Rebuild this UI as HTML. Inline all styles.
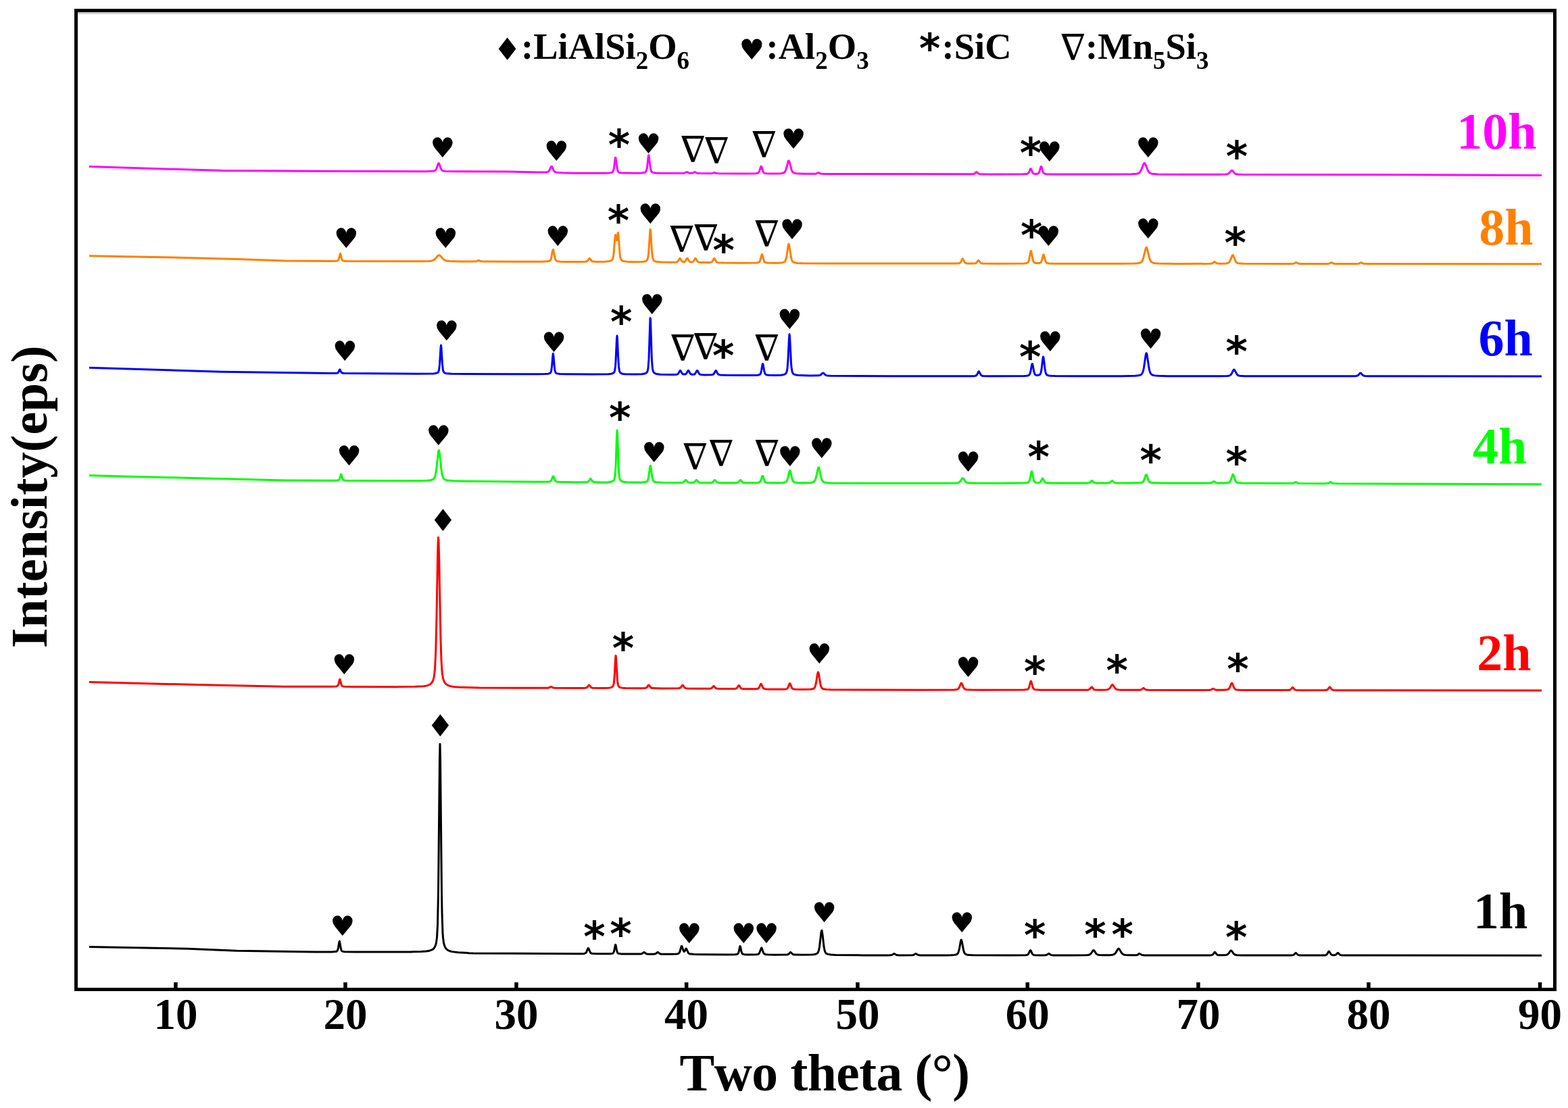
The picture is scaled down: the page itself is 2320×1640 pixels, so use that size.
<!DOCTYPE html><html><head><meta charset="utf-8"><title>XRD patterns</title><style>html,body{margin:0;padding:0;background:#fff;}svg{display:block;font-kerning:none;}text{font-kerning:none;}</style></head><body>
<svg width="2320" height="1640" viewBox="0 0 2320 1640">
<rect x="0" y="0" width="2320" height="1640" fill="#fff"/>
<path d="M132.0 246.50L242.0 250.00 330.0 252.50 550.0 253.60 630.5 253.65 640.5 253.30 642.5 252.96 644.0 252.25 645.5 250.33 648.0 243.27 648.5 242.07 649.0 241.52 649.5 241.76 650.0 242.74 652.0 248.76 653.5 251.59 654.5 252.48 655.5 252.93 659.5 253.48 676.5 253.80 750.0 254.00 794.5 254.96 807.0 254.98 810.0 254.60 811.5 253.82 813.0 251.82 815.0 247.31 815.5 246.50 816.0 246.20 816.5 246.52 817.0 247.35 819.0 251.96 820.0 253.51 821.5 254.68 824.0 255.28 831.5 255.76 850.0 256.27 895.0 256.22 900.5 256.03 904.0 255.62 906.0 254.87 907.0 253.71 908.0 250.67 908.5 247.94 910.5 233.26 911.0 233.57 913.5 251.12 914.5 253.90 915.5 254.95 917.5 255.66 922.5 256.12 944.5 256.22 949.5 256.03 953.0 255.60 955.0 254.78 956.0 253.56 957.0 250.35 957.5 247.40 959.0 233.56 959.5 230.06 960.0 229.70 962.0 246.69 962.5 249.85 963.5 253.37 964.5 254.71 966.5 255.59 970.0 256.07 975.5 256.30 1010.5 256.41 1013.0 256.01 1016.0 254.47 1019.5 256.16 1023.0 256.37 1025.0 256.02 1028.0 254.47 1031.5 256.25 1035.5 256.59 1052.0 256.64 1054.0 256.38 1057.0 255.50 1060.0 256.50 1064.0 256.77 1105.5 256.95 1118.0 256.75 1121.0 256.31 1122.5 255.32 1123.5 253.59 1125.5 247.19 1126.0 246.24 1126.5 246.35 1127.0 247.48 1128.5 252.54 1129.5 254.79 1130.5 255.89 1131.5 256.36 1134.5 256.79 1140.5 256.97 1149.5 256.93 1155.5 256.63 1158.0 256.27 1159.5 255.80 1161.0 254.72 1162.0 253.28 1163.5 249.36 1166.0 239.48 1166.5 238.23 1167.0 237.78 1167.5 238.24 1168.0 239.49 1171.0 250.98 1172.0 253.34 1173.5 255.26 1175.0 256.10 1178.0 256.71 1189.5 257.27 1206.5 257.26 1208.0 256.94 1211.0 255.45 1213.5 256.75 1215.0 257.22 1221.0 257.47 1434.5 257.83 1439.0 257.71 1441.0 257.36 1442.0 256.82 1444.5 254.53 1445.5 254.92 1447.0 256.50 1448.0 257.20 1449.0 257.54 1451.0 257.76 1477.0 257.96 1513.5 257.86 1519.0 257.55 1521.0 256.88 1522.5 254.95 1524.5 250.13 1525.0 249.71 1525.5 250.12 1527.5 254.90 1528.5 256.37 1530.0 257.21 1533.0 257.41 1535.5 257.02 1537.0 255.81 1538.0 253.74 1540.0 247.01 1540.5 246.43 1541.0 247.02 1543.0 253.79 1544.0 255.89 1545.5 257.14 1548.5 257.68 1558.0 257.97 1588.5 258.09 1652.5 258.07 1673.5 257.84 1682.0 257.21 1684.0 256.68 1685.5 255.84 1687.0 254.27 1688.5 251.65 1692.0 242.79 1693.0 241.48 1693.5 241.44 1694.0 241.83 1695.0 243.67 1698.5 252.47 1699.5 254.14 1701.0 255.77 1702.5 256.65 1705.0 257.30 1713.5 257.90 1750.5 258.21 1798.0 258.25 1813.0 258.04 1816.0 257.71 1818.0 256.87 1819.5 255.50 1821.5 252.94 1822.5 252.22 1823.5 252.55 1826.5 256.14 1828.5 257.45 1831.5 258.00 1838.0 258.22 2000.0 258.50 2281.0 259.40" fill="none" stroke="#ff00ff" stroke-width="3.0" stroke-linejoin="round"/>
<path d="M132.0 378.70L254.0 381.00 350.0 383.50 421.0 385.90 492.5 386.49 498.5 386.15 499.5 385.88 500.5 385.15 501.5 382.96 503.0 376.38 503.5 375.40 504.0 376.38 505.5 382.98 506.5 385.16 508.0 386.07 512.0 386.48 606.0 386.85 625.5 386.77 635.0 386.48 639.0 385.94 641.5 384.96 644.0 382.99 648.0 378.45 649.5 377.70 650.5 377.95 651.5 378.74 655.0 382.81 657.5 384.89 660.5 386.07 665.0 386.61 679.0 386.97 702.5 387.04 705.0 386.78 707.5 385.67 708.5 385.48 711.5 386.78 715.5 387.12 802.0 387.30 811.0 386.84 813.0 386.31 814.0 385.59 815.0 383.91 815.5 382.43 817.5 372.02 818.0 369.90 818.5 369.34 819.0 370.60 820.5 378.93 821.5 383.10 822.0 384.38 823.0 385.82 825.0 386.72 829.0 387.19 836.5 387.41 858.0 387.51 866.5 387.33 868.0 387.05 869.0 386.51 870.0 385.46 871.5 383.08 872.0 382.56 872.5 382.51 873.0 382.92 875.0 385.92 876.0 386.73 877.0 387.10 883.0 387.43 895.5 387.26 900.5 386.84 903.5 386.16 905.5 384.96 906.5 383.43 907.5 379.60 908.0 376.03 910.0 351.02 910.5 347.74 911.0 348.61 912.0 354.99 912.5 355.82 913.0 353.86 914.0 345.64 914.5 344.39 915.0 347.84 917.0 375.16 918.0 381.64 918.5 383.26 919.5 384.93 920.5 385.70 922.0 386.38 927.0 387.26 937.0 387.67 948.5 387.59 953.0 387.20 956.0 386.27 957.5 384.97 958.5 382.53 959.5 376.13 960.0 370.37 962.0 339.43 962.5 340.10 963.0 346.48 964.5 371.71 965.0 377.09 966.0 382.95 967.0 385.18 968.0 386.15 969.0 386.68 972.5 387.55 978.5 388.00 994.0 388.23 1001.0 387.91 1002.0 387.57 1003.0 386.81 1005.5 382.69 1006.0 382.38 1006.5 382.67 1009.0 386.75 1010.5 387.64 1012.0 387.70 1013.5 387.03 1014.5 385.82 1016.0 383.04 1016.5 382.42 1017.0 382.36 1020.0 387.03 1021.5 387.83 1024.0 387.92 1025.0 387.63 1026.0 386.88 1028.5 382.68 1029.0 382.38 1029.5 382.70 1032.0 387.02 1033.5 388.04 1035.5 388.39 1039.0 388.57 1050.0 388.55 1052.0 388.29 1053.5 387.50 1054.5 386.20 1056.0 383.25 1056.5 382.59 1057.0 382.53 1060.0 387.47 1061.0 388.17 1063.0 388.63 1071.0 388.94 1095.5 389.16 1119.0 388.99 1121.0 388.77 1122.5 388.34 1123.5 387.55 1124.0 386.83 1125.0 384.34 1127.0 376.87 1127.5 376.47 1128.0 377.37 1129.5 383.30 1130.5 386.27 1131.5 387.81 1132.5 388.47 1135.5 389.04 1142.0 389.29 1151.5 389.22 1157.0 388.80 1159.0 388.37 1160.5 387.69 1161.5 386.72 1162.5 384.78 1164.0 378.52 1166.0 364.47 1166.5 361.93 1167.0 360.98 1167.5 361.93 1168.0 364.48 1170.5 381.21 1171.5 384.86 1172.5 386.81 1174.0 388.10 1176.5 388.89 1181.0 389.41 1188.0 389.71 1227.0 390.03 1414.5 390.05 1418.5 389.80 1420.5 389.10 1422.0 387.16 1423.5 383.77 1424.0 383.02 1424.5 382.94 1427.5 388.54 1429.0 389.55 1431.0 389.88 1439.0 390.04 1443.5 389.65 1445.0 388.73 1447.0 385.87 1447.5 385.37 1448.0 385.32 1451.0 389.11 1452.0 389.65 1454.0 389.99 1477.0 390.25 1514.5 389.96 1517.5 389.69 1519.5 389.27 1520.5 388.76 1521.5 387.62 1522.5 385.03 1524.5 374.24 1525.0 372.04 1525.5 371.46 1526.0 372.76 1528.0 383.80 1529.0 386.98 1529.5 387.87 1530.5 388.81 1533.0 389.49 1537.5 389.48 1539.0 389.11 1540.0 388.39 1541.0 386.69 1541.5 385.29 1543.5 377.47 1544.0 376.79 1544.5 377.48 1546.5 385.35 1547.5 387.80 1548.0 388.49 1549.0 389.25 1552.0 389.88 1561.5 390.23 1592.0 390.37 1657.5 390.33 1678.0 390.02 1683.0 389.66 1686.0 389.15 1688.0 388.32 1689.5 386.90 1690.5 385.21 1691.5 382.66 1695.0 368.42 1696.0 366.27 1696.5 366.35 1697.0 367.23 1700.5 381.37 1701.5 384.31 1703.0 387.05 1704.5 388.40 1706.5 389.19 1710.0 389.75 1715.0 390.08 1740.5 390.43 1790.0 390.36 1793.5 389.91 1794.5 389.35 1796.5 387.58 1797.0 387.42 1797.5 387.57 1800.0 389.64 1801.5 390.12 1807.5 390.27 1814.5 389.91 1817.0 389.32 1818.0 388.75 1819.0 387.74 1820.5 385.04 1823.0 378.52 1823.5 377.78 1824.0 377.60 1824.5 378.02 1825.0 378.93 1828.0 386.50 1829.5 388.51 1831.0 389.42 1832.5 389.81 1839.5 390.31 1911.0 390.48 1914.5 390.13 1917.0 388.75 1918.0 388.52 1921.0 390.10 1923.5 390.45 1962.0 390.52 1966.5 390.20 1970.0 388.50 1973.0 390.05 1975.5 390.46 2005.0 390.55 2010.5 390.21 2014.0 388.50 2016.5 389.84 2018.0 390.33 2024.0 390.57 2281.0 390.70" fill="none" stroke="#ff8000" stroke-width="3.0" stroke-linejoin="round"/>
<path d="M132.0 544.30L326.0 550.20 490.5 552.52 497.0 552.44 499.5 552.04 500.5 551.22 501.0 550.40 502.5 547.09 503.0 546.99 504.5 550.22 505.5 551.69 507.0 552.34 509.5 552.55 616.5 553.27 641.5 553.02 645.0 552.60 647.5 551.66 648.5 550.65 649.5 547.86 650.5 539.60 652.0 514.69 652.5 511.00 653.0 514.70 654.5 539.61 655.5 547.87 656.0 549.66 657.0 551.28 658.5 552.20 660.5 552.73 668.0 553.28 688.5 553.53 795.5 553.75 806.5 553.61 811.5 553.17 814.0 552.24 815.0 550.95 815.5 549.50 816.5 542.98 818.0 525.05 818.5 523.41 819.0 527.02 820.5 544.79 821.0 548.16 822.0 551.35 823.0 552.40 824.0 552.87 828.5 553.58 838.5 553.85 877.0 554.04 900.5 553.70 904.5 553.27 907.0 552.46 908.5 551.24 909.5 549.06 910.5 542.41 911.0 535.51 912.5 501.88 913.0 496.90 913.5 501.89 914.5 525.55 915.5 542.45 916.5 549.11 917.5 551.30 918.5 552.24 920.0 552.98 922.0 553.48 925.0 553.83 938.5 554.09 949.5 553.85 954.0 553.09 955.5 552.45 956.5 551.72 957.5 550.51 958.0 549.49 959.0 545.01 960.0 531.41 962.0 470.66 962.5 472.20 964.0 521.40 964.5 533.49 965.5 545.76 966.5 549.78 967.5 551.39 968.5 552.27 970.0 553.05 971.5 553.49 977.0 554.17 992.5 554.53 998.5 554.54 1001.5 554.25 1002.5 553.90 1003.5 553.09 1006.0 548.72 1006.5 548.39 1007.0 548.71 1009.0 552.37 1010.0 553.49 1011.5 554.09 1013.5 554.08 1014.5 553.74 1015.5 552.90 1017.5 549.28 1018.0 548.54 1018.5 548.35 1019.0 548.80 1021.0 552.56 1022.0 553.64 1023.5 554.24 1026.0 554.32 1027.5 553.98 1028.5 553.24 1031.0 548.84 1031.5 548.40 1032.0 548.61 1032.5 549.38 1034.5 553.12 1035.5 554.03 1036.5 554.43 1042.5 554.88 1052.5 554.81 1054.5 554.53 1056.0 553.62 1059.0 548.53 1059.5 548.60 1060.0 549.29 1061.5 552.40 1062.5 553.78 1063.5 554.46 1065.5 554.90 1074.0 555.21 1100.5 555.42 1114.5 555.42 1121.0 555.17 1124.0 554.46 1125.0 553.52 1125.5 552.57 1126.5 548.87 1128.0 539.92 1128.5 538.39 1129.0 539.08 1130.5 547.83 1131.5 552.01 1132.5 553.88 1133.5 554.59 1135.0 555.01 1137.5 555.29 1147.0 555.49 1155.5 555.22 1160.0 554.46 1162.0 553.51 1163.5 551.72 1164.5 548.37 1165.0 544.96 1166.0 531.98 1167.5 500.11 1168.0 494.65 1168.5 497.10 1170.5 536.92 1171.0 543.16 1172.0 549.81 1173.0 552.34 1174.0 553.46 1175.0 554.10 1178.0 555.05 1183.5 555.62 1198.5 555.97 1211.5 555.87 1214.0 555.13 1217.0 552.34 1218.0 552.02 1219.0 552.71 1221.0 554.76 1222.5 555.60 1224.5 555.98 1229.5 556.19 1320.0 556.80 1437.5 556.69 1442.5 556.42 1444.5 555.74 1446.0 553.82 1447.5 550.48 1448.0 549.74 1448.5 549.66 1451.5 555.19 1452.5 555.98 1454.5 556.47 1461.0 556.73 1479.0 556.80 1515.5 556.49 1519.0 556.23 1521.5 555.71 1522.5 555.18 1523.5 553.96 1524.5 551.25 1525.0 549.09 1526.5 540.62 1527.0 538.74 1527.5 538.53 1528.0 540.10 1530.0 550.71 1531.0 553.56 1531.5 554.33 1532.5 555.11 1534.0 555.48 1535.5 555.49 1537.5 555.07 1538.5 554.47 1539.5 553.04 1540.0 551.70 1541.0 546.84 1543.0 530.01 1543.5 528.02 1544.0 528.92 1546.0 545.54 1547.0 551.10 1547.5 552.72 1548.5 554.47 1549.5 555.24 1551.5 555.90 1555.0 556.35 1561.0 556.61 1592.0 556.83 1659.5 556.72 1679.5 556.30 1684.5 555.78 1687.5 554.97 1689.0 553.99 1690.5 551.72 1691.5 548.76 1692.5 544.08 1695.0 526.76 1695.5 524.12 1696.0 522.73 1696.5 522.89 1697.0 524.56 1700.0 544.64 1701.0 549.13 1702.0 551.94 1703.5 554.08 1705.0 555.01 1708.5 555.88 1713.5 556.34 1728.5 556.70 1768.5 556.83 1804.5 556.76 1816.0 556.44 1819.0 555.95 1821.0 554.76 1822.5 552.72 1825.0 547.80 1825.5 547.24 1826.0 547.11 1827.0 548.11 1830.0 553.82 1831.5 555.33 1833.0 556.01 1834.5 556.31 1841.5 556.68 1898.0 556.86 2003.0 556.73 2006.5 556.54 2008.5 556.04 2010.0 554.98 2012.0 552.59 2013.0 552.00 2014.0 552.59 2016.0 554.98 2017.5 556.04 2019.5 556.54 2024.5 556.76 2281.0 556.90" fill="none" stroke="#0000ff" stroke-width="3.0" stroke-linejoin="round"/>
<path d="M132.0 703.80L421.0 711.00 492.0 711.26 499.0 711.04 500.5 710.79 501.5 710.29 502.5 708.75 504.5 701.84 505.0 702.02 506.5 707.62 507.5 709.88 508.0 710.40 509.0 710.86 511.5 711.19 541.0 711.55 601.0 711.73 621.5 711.65 632.0 711.30 637.0 710.71 640.5 709.57 642.0 708.35 643.5 705.51 644.5 701.77 645.5 695.80 648.5 669.10 649.0 666.88 649.5 666.67 650.0 668.53 650.5 672.05 653.0 695.13 654.5 703.59 655.5 706.63 657.0 708.90 659.0 710.15 662.0 710.98 670.5 711.81 688.5 712.28 770.5 713.10 810.0 713.22 813.5 712.83 815.0 711.92 816.0 710.39 818.0 705.43 818.5 705.00 819.0 705.43 821.0 710.43 822.0 711.98 823.5 712.91 825.5 713.25 846.5 713.71 868.0 713.63 869.5 713.34 870.5 712.80 871.5 711.68 873.0 709.16 873.5 708.60 874.0 708.55 877.0 712.77 879.0 713.57 888.5 713.91 900.5 713.65 905.0 712.92 907.5 711.62 908.5 710.44 909.0 709.43 910.0 704.87 911.0 691.19 912.5 646.20 913.0 637.08 913.5 641.23 915.5 696.78 916.5 706.82 917.5 710.10 918.5 711.45 919.5 712.22 922.5 713.28 927.5 713.83 936.5 714.09 949.5 714.06 954.5 713.60 957.0 712.72 958.0 711.63 959.0 709.08 960.0 703.89 961.5 692.17 962.0 689.57 962.5 689.31 963.0 691.51 965.0 706.36 966.0 710.38 967.0 712.20 968.5 713.22 970.5 713.72 980.0 714.30 1001.5 714.45 1009.5 714.23 1011.5 713.56 1014.0 710.76 1014.5 710.47 1015.0 710.60 1015.5 711.07 1017.5 713.41 1018.5 713.96 1021.0 714.33 1025.0 714.28 1026.5 714.01 1027.5 713.50 1030.0 710.66 1030.5 710.46 1031.0 710.67 1033.5 713.54 1035.0 714.21 1040.0 714.54 1051.0 714.49 1053.0 714.29 1054.5 713.67 1057.0 710.78 1057.5 710.49 1058.0 710.62 1058.5 711.11 1060.5 713.54 1061.5 714.13 1063.0 714.46 1071.5 714.71 1088.0 714.66 1090.5 714.50 1092.0 714.07 1093.0 713.34 1095.0 710.78 1095.5 710.48 1096.0 710.62 1096.5 711.13 1098.5 713.62 1099.5 714.23 1100.5 714.49 1108.5 714.79 1120.0 714.60 1123.0 714.19 1124.5 713.30 1126.0 710.44 1127.5 705.46 1128.0 704.36 1128.5 704.25 1129.0 705.18 1130.5 710.16 1131.5 712.50 1132.5 713.68 1133.5 714.18 1136.5 714.62 1142.5 714.79 1152.5 714.76 1158.5 714.47 1161.0 714.10 1162.5 713.57 1163.5 712.78 1164.5 711.23 1165.5 708.44 1167.5 699.37 1168.5 696.33 1169.0 696.46 1169.5 697.75 1171.5 706.92 1172.5 710.29 1173.5 712.29 1175.0 713.63 1177.5 714.33 1182.5 714.72 1192.0 714.79 1199.0 714.46 1201.5 714.12 1203.5 713.50 1205.0 712.34 1206.0 710.79 1207.5 706.45 1210.0 694.61 1211.0 691.85 1211.5 691.97 1212.0 693.11 1214.5 704.85 1215.5 708.57 1216.5 711.04 1217.5 712.52 1219.0 713.62 1221.5 714.33 1225.5 714.77 1231.5 715.05 1283.5 715.27 1391.5 715.17 1413.0 714.95 1417.0 714.62 1418.5 714.21 1419.5 713.65 1421.0 712.15 1423.5 708.35 1424.5 707.70 1425.5 708.35 1428.0 712.14 1429.5 713.65 1431.0 714.38 1433.5 714.80 1443.0 715.08 1470.5 715.14 1504.5 715.06 1516.0 714.81 1520.5 714.21 1521.5 713.78 1522.5 712.81 1523.5 710.58 1524.0 708.74 1526.0 698.53 1526.5 697.65 1527.0 698.53 1529.5 710.53 1530.5 712.74 1531.5 713.70 1533.0 714.22 1535.0 714.44 1537.0 714.41 1538.5 714.03 1540.0 712.57 1542.0 708.55 1542.5 708.08 1543.0 708.30 1543.5 709.12 1545.5 713.10 1546.5 714.06 1548.5 714.68 1553.0 714.94 1591.0 715.08 1609.5 714.90 1611.5 714.63 1612.5 714.21 1615.0 711.75 1615.5 711.50 1616.0 711.61 1618.0 713.67 1619.0 714.36 1622.0 714.90 1635.0 714.98 1641.0 714.71 1643.0 713.82 1645.0 711.73 1645.5 711.48 1646.5 712.01 1648.5 714.04 1649.5 714.53 1651.0 714.80 1672.0 714.96 1686.5 714.61 1689.5 714.13 1690.5 713.67 1691.5 712.77 1693.0 709.89 1695.0 703.76 1695.5 702.77 1696.0 702.52 1696.5 703.09 1697.0 704.30 1699.0 710.40 1700.0 712.36 1701.5 713.79 1704.5 714.53 1718.5 714.94 1789.0 715.03 1791.5 714.90 1793.0 714.56 1795.5 712.77 1796.5 712.47 1799.0 714.27 1801.0 714.88 1813.0 714.91 1817.5 714.42 1818.5 714.06 1819.5 713.34 1821.0 710.91 1823.5 703.24 1824.0 702.35 1824.5 702.26 1825.5 704.38 1827.5 710.70 1829.0 713.27 1830.0 714.05 1831.5 714.56 1838.0 715.09 1910.5 715.45 1914.0 715.08 1917.0 713.52 1918.0 713.75 1920.5 715.14 1923.0 715.46 1960.5 715.63 1965.0 715.35 1966.0 715.00 1968.5 713.52 1969.5 713.77 1971.0 714.80 1972.5 715.40 1979.5 715.72 2281.0 716.70" fill="none" stroke="#00ff00" stroke-width="3.0" stroke-linejoin="round"/>
<path d="M132.0 1009.50L302.0 1013.80 421.0 1016.20 490.5 1016.31 497.0 1016.06 498.5 1015.79 499.5 1015.27 500.5 1013.67 501.0 1012.09 502.5 1005.67 503.0 1005.47 504.5 1011.71 505.5 1014.53 506.0 1015.20 507.0 1015.79 510.0 1016.22 523.0 1016.45 588.5 1016.67 589.0 1016.47 614.0 1016.35 626.5 1015.73 630.5 1015.11 634.0 1014.09 636.5 1012.74 638.5 1010.90 640.0 1008.66 641.0 1006.33 642.0 1002.54 642.5 999.61 643.5 989.65 644.5 970.05 645.0 954.84 646.0 911.49 647.5 827.08 648.0 805.50 648.5 795.40 649.0 799.84 649.5 817.43 652.0 947.67 653.0 977.43 654.0 993.57 654.5 998.32 655.5 1004.13 657.0 1008.53 658.5 1010.98 660.5 1012.98 663.0 1014.47 666.5 1015.65 671.0 1016.49 681.5 1017.37 708.5 1017.90 709.0 1018.09 802.5 1018.36 811.0 1018.19 812.5 1017.81 814.5 1016.64 815.5 1016.42 818.5 1017.98 821.0 1018.33 861.5 1018.48 866.0 1018.31 868.0 1017.80 869.0 1017.02 871.0 1014.33 871.5 1014.01 872.0 1014.15 872.5 1014.69 874.5 1017.33 875.5 1017.92 877.0 1018.28 893.5 1018.47 899.5 1018.28 903.0 1017.88 905.0 1017.31 906.5 1016.33 907.5 1014.67 908.0 1012.85 909.0 1004.28 910.5 976.09 911.0 970.38 911.5 972.97 913.5 1007.79 914.5 1014.08 915.5 1016.14 916.5 1016.99 917.5 1017.47 920.5 1018.14 925.5 1018.50 947.5 1018.77 954.5 1018.54 956.5 1017.84 957.5 1016.84 959.0 1014.59 959.5 1014.09 960.0 1014.04 963.0 1017.78 964.0 1018.32 965.5 1018.61 979.0 1018.90 1003.5 1018.80 1005.5 1018.55 1006.5 1018.12 1007.5 1017.21 1009.5 1014.25 1010.0 1014.00 1010.5 1014.26 1012.5 1017.25 1013.5 1018.19 1014.5 1018.63 1016.5 1018.92 1036.0 1019.29 1050.5 1019.20 1052.0 1018.93 1053.0 1018.43 1055.5 1015.69 1056.0 1015.49 1056.5 1015.69 1059.0 1018.49 1061.0 1019.24 1068.5 1019.56 1085.0 1019.60 1088.0 1019.41 1089.5 1018.94 1090.5 1018.10 1093.0 1014.52 1093.5 1014.58 1094.0 1015.14 1096.0 1018.26 1097.0 1019.06 1098.0 1019.42 1104.0 1019.82 1117.0 1019.86 1120.5 1019.59 1121.5 1019.30 1122.5 1018.62 1123.5 1017.17 1125.5 1012.48 1126.0 1012.08 1126.5 1012.49 1129.0 1018.07 1130.0 1019.11 1131.0 1019.56 1133.5 1019.93 1138.5 1020.13 1159.0 1020.21 1163.0 1019.90 1164.0 1019.61 1165.0 1018.91 1166.0 1017.38 1168.0 1012.09 1168.5 1011.46 1169.0 1011.75 1169.5 1012.80 1171.5 1017.99 1172.5 1019.24 1174.0 1019.95 1177.5 1020.32 1184.0 1020.48 1199.0 1020.20 1202.0 1019.78 1204.0 1019.04 1205.0 1018.17 1206.0 1016.42 1207.5 1010.75 1209.5 998.04 1210.0 995.74 1210.5 994.89 1211.0 995.75 1211.5 998.06 1214.0 1013.20 1215.0 1016.50 1216.0 1018.27 1217.5 1019.45 1219.5 1020.06 1223.0 1020.50 1229.0 1020.78 1270.5 1021.05 1362.0 1021.13 1412.0 1020.90 1416.0 1020.46 1417.0 1020.09 1418.0 1019.35 1419.5 1017.01 1421.5 1012.02 1422.0 1011.22 1422.5 1011.01 1423.5 1012.47 1425.5 1017.43 1426.5 1019.02 1428.0 1020.19 1430.5 1020.75 1437.0 1021.06 1451.5 1021.18 1515.0 1021.04 1519.5 1020.59 1520.5 1020.24 1521.5 1019.44 1522.5 1017.62 1524.5 1010.07 1525.0 1008.53 1525.5 1008.13 1526.0 1009.04 1528.0 1016.80 1528.5 1018.11 1529.5 1019.67 1530.5 1020.34 1532.0 1020.74 1539.5 1021.17 1573.5 1021.33 1608.5 1021.16 1610.5 1020.95 1612.0 1020.33 1615.0 1016.90 1615.5 1016.95 1616.0 1017.40 1618.0 1020.00 1619.0 1020.66 1620.0 1020.95 1626.5 1021.22 1636.5 1021.00 1639.0 1020.64 1641.0 1019.66 1642.5 1017.99 1645.0 1013.96 1646.0 1013.40 1647.0 1014.22 1649.5 1018.28 1651.0 1019.83 1653.0 1020.71 1657.0 1021.13 1672.0 1021.36 1686.5 1021.23 1689.0 1020.61 1691.0 1018.92 1692.0 1018.49 1694.5 1020.43 1695.5 1020.93 1699.5 1021.34 1788.0 1021.42 1791.5 1021.09 1795.0 1019.26 1798.0 1020.91 1799.5 1021.27 1811.0 1021.31 1816.0 1020.85 1818.0 1019.84 1819.5 1017.66 1821.5 1012.51 1822.0 1011.49 1822.5 1011.01 1823.0 1011.22 1823.5 1012.06 1826.0 1018.25 1827.5 1020.11 1828.5 1020.65 1830.0 1021.02 1836.5 1021.41 1883.0 1021.62 1906.0 1021.47 1908.0 1021.24 1909.0 1020.89 1910.0 1020.14 1912.0 1017.71 1912.5 1017.50 1913.0 1017.71 1915.5 1020.58 1916.5 1021.11 1918.0 1021.40 1930.0 1021.64 1959.5 1021.55 1962.5 1021.34 1964.0 1020.82 1965.0 1019.95 1967.0 1017.14 1967.5 1016.90 1968.0 1017.14 1970.0 1019.96 1971.5 1021.08 1973.5 1021.47 1978.0 1021.63 2281.0 1022.00" fill="none" stroke="#ff0000" stroke-width="3.0" stroke-linejoin="round"/>
<path d="M132.0 1401.40L278.0 1404.30 350.0 1407.20 466.0 1409.05 490.5 1408.97 496.5 1408.59 498.0 1408.19 499.0 1407.43 500.0 1405.10 500.5 1402.79 502.0 1393.43 502.5 1393.14 504.0 1402.23 505.0 1406.33 505.5 1407.30 506.5 1408.15 509.5 1408.76 524.5 1409.06 609.0 1409.10 609.5 1408.83 622.5 1408.52 630.5 1407.98 635.5 1407.16 639.5 1405.69 641.5 1404.18 643.0 1402.24 644.5 1398.90 645.5 1395.02 646.5 1387.56 647.5 1368.95 648.5 1321.28 650.5 1121.30 651.0 1101.20 651.5 1121.33 653.5 1321.44 654.0 1350.37 655.0 1380.75 655.5 1387.83 656.5 1395.35 657.5 1399.29 658.5 1401.79 660.0 1404.18 662.5 1406.38 665.5 1407.75 669.0 1408.62 678.0 1409.69 692.5 1410.50 693.0 1410.79 700.0 1411.00 860.5 1411.65 864.5 1411.39 866.5 1410.67 867.5 1409.50 869.5 1404.66 870.0 1403.68 870.5 1403.42 871.0 1404.01 872.5 1407.89 873.5 1409.84 874.5 1410.85 875.5 1411.27 878.0 1411.62 883.0 1411.81 902.0 1411.81 906.0 1411.38 907.5 1410.49 908.5 1408.26 910.5 1398.29 911.0 1398.55 912.5 1406.63 913.5 1409.90 914.0 1410.64 915.0 1411.30 919.5 1411.92 947.5 1412.09 950.0 1411.54 952.5 1409.63 953.0 1409.49 953.5 1409.63 955.5 1411.27 957.0 1411.93 960.0 1412.19 967.0 1412.19 970.0 1411.77 973.0 1409.55 973.5 1409.46 976.5 1411.67 978.5 1412.17 992.5 1412.35 1001.5 1412.01 1003.5 1411.56 1005.0 1410.34 1006.0 1408.26 1008.0 1401.07 1008.5 1400.20 1009.0 1400.52 1011.0 1407.00 1012.0 1408.52 1012.5 1408.49 1013.0 1407.98 1014.5 1404.84 1015.0 1404.10 1015.5 1404.10 1018.5 1410.56 1019.5 1411.49 1021.5 1412.11 1027.0 1412.49 1040.0 1412.69 1077.0 1412.88 1088.0 1412.70 1091.0 1412.21 1092.0 1411.47 1092.5 1410.65 1093.0 1409.27 1094.5 1402.00 1095.0 1400.53 1095.5 1401.20 1097.0 1408.54 1098.0 1411.22 1099.0 1412.15 1101.0 1412.64 1105.5 1412.90 1114.0 1412.95 1119.0 1412.79 1121.5 1412.42 1122.5 1411.95 1123.5 1410.83 1126.5 1402.97 1127.0 1403.08 1127.5 1404.14 1129.0 1408.91 1130.0 1411.02 1131.0 1412.06 1133.0 1412.73 1137.0 1413.04 1145.5 1413.21 1164.5 1413.05 1166.5 1412.50 1167.5 1411.70 1169.0 1409.91 1169.5 1409.51 1170.0 1409.47 1173.0 1412.46 1175.0 1413.08 1186.5 1413.31 1200.5 1413.05 1204.5 1412.70 1207.5 1412.04 1209.5 1410.87 1210.5 1409.45 1211.5 1406.62 1212.5 1401.48 1215.0 1380.04 1215.5 1377.54 1216.0 1377.29 1217.0 1383.21 1219.0 1400.84 1220.0 1406.27 1221.0 1409.29 1222.5 1411.28 1225.0 1412.39 1229.0 1413.04 1235.5 1413.41 1276.0 1413.89 1315.5 1413.92 1319.5 1413.54 1323.0 1411.50 1326.5 1413.54 1330.5 1413.91 1350.0 1413.81 1352.0 1413.35 1354.5 1411.62 1355.0 1411.50 1358.5 1413.55 1361.5 1413.90 1398.5 1413.89 1407.0 1413.72 1412.0 1413.38 1414.5 1412.94 1416.0 1412.32 1417.0 1411.42 1418.0 1409.63 1419.5 1404.09 1421.5 1392.86 1422.0 1391.28 1422.5 1391.12 1423.5 1394.86 1425.5 1405.96 1426.5 1409.39 1427.5 1411.29 1429.0 1412.54 1431.0 1413.15 1434.5 1413.56 1439.5 1413.79 1494.5 1414.02 1518.0 1413.72 1520.0 1413.34 1521.5 1412.22 1524.0 1407.03 1524.5 1406.51 1525.0 1406.74 1527.0 1411.10 1528.0 1412.56 1529.5 1413.44 1531.5 1413.74 1540.0 1413.95 1547.0 1413.78 1549.0 1413.15 1551.5 1411.48 1552.0 1411.56 1555.0 1413.53 1557.5 1413.89 1586.5 1414.01 1606.5 1413.80 1610.5 1413.46 1612.0 1413.04 1613.0 1412.48 1614.5 1410.95 1617.0 1407.12 1618.0 1406.46 1619.0 1407.11 1622.0 1411.55 1623.0 1412.45 1624.5 1413.19 1626.5 1413.56 1630.0 1413.75 1642.0 1413.68 1646.5 1413.24 1649.0 1412.19 1651.0 1410.01 1654.0 1404.85 1655.0 1404.08 1655.5 1404.18 1656.5 1405.28 1658.5 1408.89 1660.0 1411.08 1662.0 1412.69 1663.5 1413.22 1665.5 1413.53 1673.0 1413.85 1679.5 1413.86 1682.0 1413.65 1683.5 1413.06 1685.5 1411.56 1686.0 1411.43 1689.5 1413.55 1693.5 1413.95 1749.0 1414.09 1789.5 1413.93 1792.5 1413.70 1794.0 1413.18 1795.0 1412.31 1797.0 1409.49 1797.5 1409.24 1798.0 1409.48 1800.0 1412.28 1801.5 1413.39 1804.5 1413.81 1811.0 1413.77 1814.5 1413.41 1816.5 1412.53 1818.0 1411.03 1820.5 1407.40 1821.5 1406.89 1822.5 1407.63 1825.5 1411.85 1827.0 1412.97 1830.0 1413.70 1837.0 1413.97 1910.5 1413.98 1912.5 1413.81 1914.0 1413.31 1917.0 1410.53 1917.5 1410.57 1918.0 1410.94 1919.5 1412.62 1920.5 1413.36 1923.0 1413.92 1939.0 1414.09 1958.5 1413.93 1961.0 1413.71 1962.5 1413.20 1964.0 1411.60 1965.5 1408.80 1966.0 1408.17 1966.5 1408.11 1969.5 1412.71 1971.0 1413.51 1973.0 1413.73 1975.0 1413.63 1976.0 1413.35 1977.0 1412.71 1979.0 1410.61 1979.5 1410.43 1980.0 1410.62 1982.0 1412.76 1983.5 1413.62 1985.5 1413.92 1990.5 1414.06 2281.0 1414.20" fill="none" stroke="#000000" stroke-width="3.0" stroke-linejoin="round"/>
<rect x="115" y="18" width="2183" height="3" fill="#cfcfcf"/>
<rect x="112.5" y="15.5" width="2188" height="1449" fill="none" stroke="#000" stroke-width="5"/>
<rect x="257.2" y="1454" width="5.5" height="9" fill="#000"/><rect x="508.2" y="1454" width="5.5" height="9" fill="#000"/><rect x="761.2" y="1454" width="5.5" height="9" fill="#000"/><rect x="1012.9" y="1454" width="5.5" height="9" fill="#000"/><rect x="1266.2" y="1454" width="5.5" height="9" fill="#000"/><rect x="1517.5" y="1454" width="5.5" height="9" fill="#000"/><rect x="1770.2" y="1454" width="5.5" height="9" fill="#000"/><rect x="2022.2" y="1454" width="5.5" height="9" fill="#000"/><rect x="2275.8" y="1454" width="5.5" height="9" fill="#000"/>
<g font-family="'Liberation Serif', 'Times New Roman', serif" font-weight="bold" fill="#000">
<text x="260.0" y="1523" font-size="65" text-anchor="middle">10</text>
<text x="511.0" y="1523" font-size="65" text-anchor="middle">20</text>
<text x="764.0" y="1523" font-size="65" text-anchor="middle">30</text>
<text x="1015.6" y="1523" font-size="65" text-anchor="middle">40</text>
<text x="1269.0" y="1523" font-size="65" text-anchor="middle">50</text>
<text x="1520.3" y="1523" font-size="65" text-anchor="middle">60</text>
<text x="1773.0" y="1523" font-size="65" text-anchor="middle">70</text>
<text x="2025.0" y="1523" font-size="65" text-anchor="middle">80</text>
<text x="2278.6" y="1523" font-size="65" text-anchor="middle">90</text>
<text x="1005.6" y="1613.6" font-size="77.6" letter-spacing="-0.55">Two theta (°)</text>
<text transform="translate(69,959.3) rotate(-90)" font-size="76.8">Intensity(eps)</text>
<text x="771.1" y="86.5" font-size="54.5">:LiAlSi<tspan font-size="37" dy="15">2</tspan><tspan font-size="54.5" dy="-15">O</tspan><tspan font-size="37" dy="15">6</tspan></text>
<text x="1133.6" y="86.5" font-size="54.5">:Al<tspan font-size="37" dy="15">2</tspan><tspan font-size="54.5" dy="-15">O</tspan><tspan font-size="37" dy="15">3</tspan></text>
<text x="1393.6" y="86.5" font-size="54.5">:SiC</text>
<text x="1606.1" y="86.5" font-size="54.5">:Mn<tspan font-size="37" dy="15">5</tspan><tspan font-size="54.5" dy="-15">Si</tspan><tspan font-size="37" dy="15">3</tspan></text>
</g>
<text x="730.0" y="89.0" font-family='"DejaVu Sans", "Noto Sans CJK SC", sans-serif' font-weight="normal" font-size="46">♦</text>
<text x="1093.6" y="88.3" font-family='"DejaVu Sans", "Noto Sans CJK SC", sans-serif' font-weight="normal" font-size="42">♥</text>
<text x="1360.1" y="92.6" font-family='"DejaVu Sans", sans-serif' font-weight="bold" font-size="60">*</text>
<text x="1563.9" y="88.3" font-family='"DejaVu Math TeX Gyre", "DejaVu Serif", serif' font-weight="normal" font-size="53">∇</text>
<g fill="#000">
<text x="636.5" y="233.4" font-family='"DejaVu Sans", "Noto Sans CJK SC", sans-serif' font-weight="normal" font-size="41">♥</text>
<text x="805.1" y="238.4" font-family='"DejaVu Sans", "Noto Sans CJK SC", sans-serif' font-weight="normal" font-size="41">♥</text>
<text x="899.7" y="236.4" font-family='"DejaVu Sans", sans-serif' font-weight="bold" font-size="62">*</text>
<text x="941.3" y="227.4" font-family='"DejaVu Sans", "Noto Sans CJK SC", sans-serif' font-weight="normal" font-size="41">♥</text>
<text x="1001.7" y="238.7" font-family='"DejaVu Math TeX Gyre", "DejaVu Serif", serif' font-weight="normal" font-size="53">∇</text>
<text x="1036.7" y="241.3" font-family='"DejaVu Math TeX Gyre", "DejaVu Serif", serif' font-weight="normal" font-size="53">∇</text>
<text x="1107.0" y="232.4" font-family='"DejaVu Math TeX Gyre", "DejaVu Serif", serif' font-weight="normal" font-size="53">∇</text>
<text x="1155.8" y="219.8" font-family='"DejaVu Sans", "Noto Sans CJK SC", sans-serif' font-weight="normal" font-size="41">♥</text>
<text x="1508.8" y="247.8" font-family='"DejaVu Sans", sans-serif' font-weight="bold" font-size="62">*</text>
<text x="1534.5" y="239.0" font-family='"DejaVu Sans", "Noto Sans CJK SC", sans-serif' font-weight="normal" font-size="41">♥</text>
<text x="1680.5" y="233.4" font-family='"DejaVu Sans", "Noto Sans CJK SC", sans-serif' font-weight="normal" font-size="41">♥</text>
<text x="1813.7" y="253.1" font-family='"DejaVu Sans", sans-serif' font-weight="bold" font-size="62">*</text>
<text x="493.9" y="367.0" font-family='"DejaVu Sans", "Noto Sans CJK SC", sans-serif' font-weight="normal" font-size="41">♥</text>
<text x="641.0" y="366.7" font-family='"DejaVu Sans", "Noto Sans CJK SC", sans-serif' font-weight="normal" font-size="41">♥</text>
<text x="807.1" y="363.7" font-family='"DejaVu Sans", "Noto Sans CJK SC", sans-serif' font-weight="normal" font-size="41">♥</text>
<text x="898.7" y="348.0" font-family='"DejaVu Sans", sans-serif' font-weight="bold" font-size="62">*</text>
<text x="944.0" y="331.1" font-family='"DejaVu Sans", "Noto Sans CJK SC", sans-serif' font-weight="normal" font-size="41">♥</text>
<text x="985.3" y="371.9" font-family='"DejaVu Math TeX Gyre", "DejaVu Serif", serif' font-weight="normal" font-size="53">∇</text>
<text x="1020.9" y="369.8" font-family='"DejaVu Math TeX Gyre", "DejaVu Serif", serif' font-weight="normal" font-size="53">∇</text>
<text x="1054.4" y="391.9" font-family='"DejaVu Sans", sans-serif' font-weight="bold" font-size="62">*</text>
<text x="1110.9" y="364.1" font-family='"DejaVu Math TeX Gyre", "DejaVu Serif", serif' font-weight="normal" font-size="53">∇</text>
<text x="1153.8" y="354.1" font-family='"DejaVu Sans", "Noto Sans CJK SC", sans-serif' font-weight="normal" font-size="41">♥</text>
<text x="1510.0" y="369.6" font-family='"DejaVu Sans", sans-serif' font-weight="bold" font-size="62">*</text>
<text x="1533.0" y="364.4" font-family='"DejaVu Sans", "Noto Sans CJK SC", sans-serif' font-weight="normal" font-size="41">♥</text>
<text x="1680.6" y="353.0" font-family='"DejaVu Sans", "Noto Sans CJK SC", sans-serif' font-weight="normal" font-size="41">♥</text>
<text x="1811.4" y="381.2" font-family='"DejaVu Sans", sans-serif' font-weight="bold" font-size="62">*</text>
<text x="492.1" y="534.1" font-family='"DejaVu Sans", "Noto Sans CJK SC", sans-serif' font-weight="normal" font-size="41">♥</text>
<text x="642.5" y="504.2" font-family='"DejaVu Sans", "Noto Sans CJK SC", sans-serif' font-weight="normal" font-size="41">♥</text>
<text x="801.2" y="521.2" font-family='"DejaVu Sans", "Noto Sans CJK SC", sans-serif' font-weight="normal" font-size="41">♥</text>
<text x="902.9" y="497.7" font-family='"DejaVu Sans", sans-serif' font-weight="bold" font-size="62">*</text>
<text x="946.6" y="465.3" font-family='"DejaVu Sans", "Noto Sans CJK SC", sans-serif' font-weight="normal" font-size="41">♥</text>
<text x="986.7" y="533.0" font-family='"DejaVu Math TeX Gyre", "DejaVu Serif", serif' font-weight="normal" font-size="53">∇</text>
<text x="1020.5" y="530.7" font-family='"DejaVu Math TeX Gyre", "DejaVu Serif", serif' font-weight="normal" font-size="53">∇</text>
<text x="1053.9" y="547.6" font-family='"DejaVu Sans", sans-serif' font-weight="bold" font-size="62">*</text>
<text x="1111.0" y="533.4" font-family='"DejaVu Math TeX Gyre", "DejaVu Serif", serif' font-weight="normal" font-size="53">∇</text>
<text x="1150.0" y="486.8" font-family='"DejaVu Sans", "Noto Sans CJK SC", sans-serif' font-weight="normal" font-size="41">♥</text>
<text x="1507.9" y="550.2" font-family='"DejaVu Sans", sans-serif' font-weight="bold" font-size="62">*</text>
<text x="1535.5" y="519.7" font-family='"DejaVu Sans", "Noto Sans CJK SC", sans-serif' font-weight="normal" font-size="41">♥</text>
<text x="1684.3" y="515.7" font-family='"DejaVu Sans", "Noto Sans CJK SC", sans-serif' font-weight="normal" font-size="41">♥</text>
<text x="1813.4" y="542.2" font-family='"DejaVu Sans", sans-serif' font-weight="bold" font-size="62">*</text>
<text x="498.2" y="689.2" font-family='"DejaVu Sans", "Noto Sans CJK SC", sans-serif' font-weight="normal" font-size="41">♥</text>
<text x="630.5" y="658.8" font-family='"DejaVu Sans", "Noto Sans CJK SC", sans-serif' font-weight="normal" font-size="41">♥</text>
<text x="900.9" y="640.4" font-family='"DejaVu Sans", sans-serif' font-weight="bold" font-size="62">*</text>
<text x="949.4" y="684.0" font-family='"DejaVu Sans", "Noto Sans CJK SC", sans-serif' font-weight="normal" font-size="41">♥</text>
<text x="1005.0" y="694.4" font-family='"DejaVu Math TeX Gyre", "DejaVu Serif", serif' font-weight="normal" font-size="53">∇</text>
<text x="1043.4" y="688.8" font-family='"DejaVu Math TeX Gyre", "DejaVu Serif", serif' font-weight="normal" font-size="53">∇</text>
<text x="1111.3" y="688.8" font-family='"DejaVu Math TeX Gyre", "DejaVu Serif", serif' font-weight="normal" font-size="53">∇</text>
<text x="1150.6" y="690.0" font-family='"DejaVu Sans", "Noto Sans CJK SC", sans-serif' font-weight="normal" font-size="41">♥</text>
<text x="1197.6" y="678.4" font-family='"DejaVu Sans", "Noto Sans CJK SC", sans-serif' font-weight="normal" font-size="41">♥</text>
<text x="1414.3" y="697.5" font-family='"DejaVu Sans", "Noto Sans CJK SC", sans-serif' font-weight="normal" font-size="41">♥</text>
<text x="1520.4" y="697.7" font-family='"DejaVu Sans", sans-serif' font-weight="bold" font-size="62">*</text>
<text x="1686.4" y="703.4" font-family='"DejaVu Sans", sans-serif' font-weight="bold" font-size="62">*</text>
<text x="1813.4" y="705.6" font-family='"DejaVu Sans", sans-serif' font-weight="bold" font-size="62">*</text>
<text x="490.9" y="997.5" font-family='"DejaVu Sans", "Noto Sans CJK SC", sans-serif' font-weight="normal" font-size="41">♥</text>
<text x="635.2" y="786.0" font-family='"DejaVu Sans", "Noto Sans CJK SC", sans-serif' font-weight="normal" font-size="45">♦</text>
<text x="905.8" y="980.9" font-family='"DejaVu Sans", sans-serif' font-weight="bold" font-size="62">*</text>
<text x="1194.0" y="982.0" font-family='"DejaVu Sans", "Noto Sans CJK SC", sans-serif' font-weight="normal" font-size="41">♥</text>
<text x="1414.2" y="1002.0" font-family='"DejaVu Sans", "Noto Sans CJK SC", sans-serif' font-weight="normal" font-size="41">♥</text>
<text x="1515.1" y="1015.9" font-family='"DejaVu Sans", sans-serif' font-weight="bold" font-size="62">*</text>
<text x="1636.6" y="1014.1" font-family='"DejaVu Sans", sans-serif' font-weight="bold" font-size="62">*</text>
<text x="1815.2" y="1011.5" font-family='"DejaVu Sans", sans-serif' font-weight="bold" font-size="62">*</text>
<text x="488.4" y="1384.8" font-family='"DejaVu Sans", "Noto Sans CJK SC", sans-serif' font-weight="normal" font-size="41">♥</text>
<text x="631.2" y="1090.2" font-family='"DejaVu Sans", "Noto Sans CJK SC", sans-serif' font-weight="normal" font-size="45">♦</text>
<text x="863.3" y="1408.2" font-family='"DejaVu Sans", sans-serif' font-weight="bold" font-size="62">*</text>
<text x="902.3" y="1404.3" font-family='"DejaVu Sans", sans-serif' font-weight="bold" font-size="62">*</text>
<text x="1001.4" y="1395.7" font-family='"DejaVu Sans", "Noto Sans CJK SC", sans-serif' font-weight="normal" font-size="41">♥</text>
<text x="1082.0" y="1395.7" font-family='"DejaVu Sans", "Noto Sans CJK SC", sans-serif' font-weight="normal" font-size="41">♥</text>
<text x="1115.8" y="1396.0" font-family='"DejaVu Sans", "Noto Sans CJK SC", sans-serif' font-weight="normal" font-size="41">♥</text>
<text x="1201.2" y="1365.3" font-family='"DejaVu Sans", "Noto Sans CJK SC", sans-serif' font-weight="normal" font-size="41">♥</text>
<text x="1405.0" y="1379.7" font-family='"DejaVu Sans", "Noto Sans CJK SC", sans-serif' font-weight="normal" font-size="41">♥</text>
<text x="1515.1" y="1405.8" font-family='"DejaVu Sans", sans-serif' font-weight="bold" font-size="62">*</text>
<text x="1604.3" y="1404.6" font-family='"DejaVu Sans", sans-serif' font-weight="bold" font-size="62">*</text>
<text x="1644.6" y="1404.6" font-family='"DejaVu Sans", sans-serif' font-weight="bold" font-size="62">*</text>
<text x="1813.0" y="1409.2" font-family='"DejaVu Sans", sans-serif' font-weight="bold" font-size="62">*</text>
</g>
<g font-family="'Liberation Serif', 'Times New Roman', serif" font-weight="bold" font-size="76">
<text x="2155.3" y="219.9" fill="#ff00ff">10h</text>
<text x="2188.2" y="361.8" fill="#ff8000">8h</text>
<text x="2187.4" y="526.0" fill="#0000ff">6h</text>
<text x="2179.1" y="685.9" fill="#00ff00">4h</text>
<text x="2185.2" y="992.3" fill="#ff0000">2h</text>
<text x="2180.1" y="1374.3" fill="#000000">1h</text>
</g>
</svg></body></html>
